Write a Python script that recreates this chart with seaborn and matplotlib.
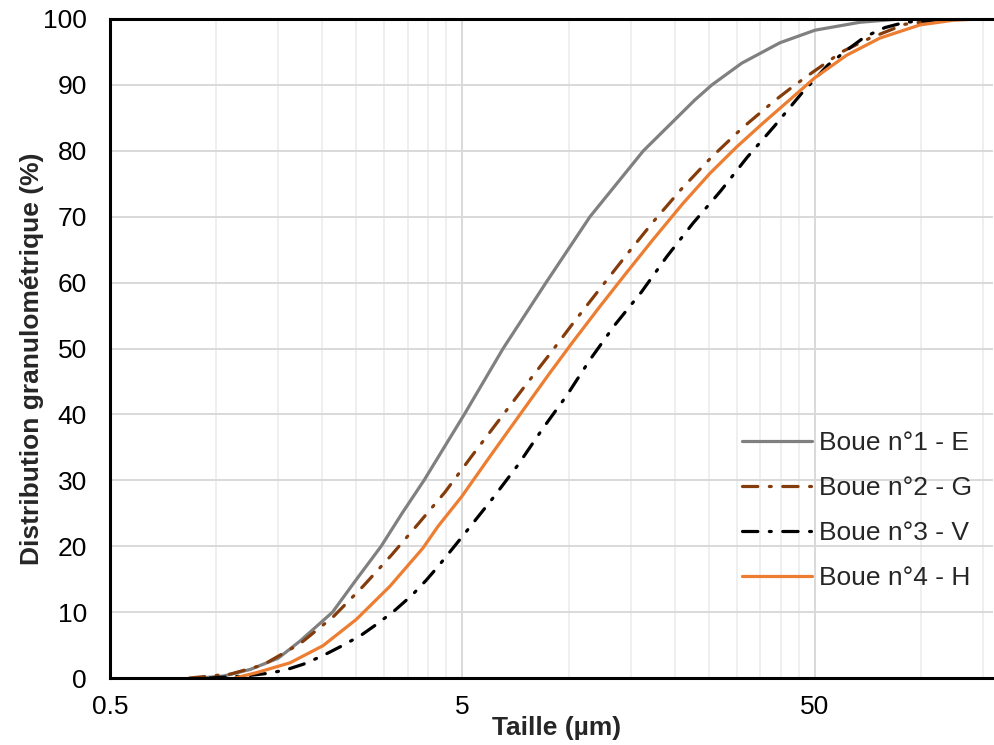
import matplotlib
matplotlib.use("Agg")
import matplotlib.pyplot as plt
from matplotlib.ticker import FixedLocator, NullFormatter
import seaborn as sns
import pandas as pd

# Particle size distributions (cumulative %, size in µm)
size_e = [0.90, 1.05, 1.25, 1.50, 1.73, 2.14, 2.48, 2.94, 3.37, 3.89, 5.06, 6.52,
          8.63, 11.5, 16.3, 22.8, 25.5, 31.0, 39.8, 50.0, 67.0, 87.0, 145.0]
pct_e = [0.0, 0.3, 1.3, 3.0, 5.6, 10.0, 14.7, 20.0, 25.0, 30.0, 40.0, 50.0,
         60.0, 70.0, 80.0, 87.7, 90.0, 93.3, 96.4, 98.3, 99.5, 100.0, 100.0]

size_g = [0.84, 1.10, 1.36, 1.73, 2.15, 2.61, 3.15, 3.76, 4.46, 5.30, 6.26, 7.42,
          8.80, 10.42, 12.33, 14.65, 17.43, 20.9, 25.3, 31.0, 38.2, 42.7, 47.7,
          53.3, 60.0, 71.6, 90.0, 113.0, 145.0]
pct_g = [0.0, 0.6, 2.0, 5.2, 9.3, 13.9, 18.7, 23.5, 28.2, 33.6, 38.7, 43.9,
         49.0, 54.2, 59.2, 64.3, 69.3, 74.2, 78.9, 83.4, 87.5, 89.5, 91.4,
         93.2, 95.1, 97.1, 99.2, 99.9, 100.0]

size_v = [0.96, 1.20, 1.40, 1.57, 1.77, 2.01, 2.28, 2.58, 2.88, 3.22, 3.60, 3.94,
          4.26, 5.00, 6.10, 7.18, 8.46, 9.89, 11.50, 13.54, 16.11, 18.97, 22.53,
          27.0, 32.1, 38.3, 45.8, 54.4, 62.0, 69.3, 79.0, 90.0, 113.0, 145.0]
pct_v = [0.0, 0.3, 0.7, 1.2, 2.1, 3.4, 4.9, 6.5, 8.3, 10.3, 12.6, 14.8,
         16.9, 21.5, 27.3, 32.3, 37.9, 42.9, 48.3, 53.6, 58.6, 63.9, 69.0,
         73.9, 79.0, 83.7, 88.7, 93.0, 95.4, 97.3, 98.7, 99.5, 99.9, 100.0]

size_h = [1.13, 1.30, 1.62, 2.01, 2.50, 3.11, 3.86, 4.26, 4.97, 5.98, 7.42, 8.85,
          10.28, 12.28, 14.45, 17.34, 21.1, 25.2, 30.0, 35.6, 41.9, 50.0, 61.5,
          76.4, 99.3, 123.0, 145.0]
pct_h = [0.0, 0.8, 2.3, 4.9, 8.9, 13.9, 19.7, 23.0, 27.5, 33.6, 40.6, 46.3,
         51.0, 56.4, 61.2, 66.5, 72.0, 76.6, 80.6, 84.2, 87.5, 91.1, 94.5,
         97.1, 99.1, 99.8, 100.0]

labels = ["Boue n°1 - E", "Boue n°2 - G", "Boue n°3 - V", "Boue n°4 - H"]
colors = ["#808080", "#843C0C", "#000000", "#ED7D31"]
x_ticks = [0.5, 5, 50]
x_tick_labels = ["0.5", "5", "50"]
y_ticks = list(range(0, 101, 10))

sns.set_theme(style="white")
plt.rcParams["font.family"] = ["Liberation Sans", "DejaVu Sans"]

FS = 19

fig = plt.figure(figsize=(9.95, 7.45), dpi=100)
ax = fig.add_axes([110 / 995, 1 - 678 / 745, 883 / 995, (678 - 19) / 745])

dash_dot = (0, (4.8, 3.6, 0.6, 3.6))
styles = ["-", dash_dot, dash_dot, "-"]
series = [(size_e, pct_e), (size_g, pct_g), (size_v, pct_v), (size_h, pct_h)]

for (sx, sy), lab, col, ls in zip(series, labels, colors, styles):
    df = pd.DataFrame({"size": sx, "pct": sy})
    sns.lineplot(data=df, x="size", y="pct", ax=ax, color=col, linewidth=2.3,
                 linestyle=ls, label=lab, sort=False, estimator=None,
                 solid_capstyle="round", dash_capstyle="round",
                 solid_joinstyle="round", dash_joinstyle="round")

ax.set_xscale("log")
ax.set_xlim(0.5, 160)
ax.set_ylim(0, 100)

ax.xaxis.set_major_locator(FixedLocator(x_ticks))
ax.set_xticklabels(x_tick_labels)
minor = [0.5 * k for k in range(2, 10)] + [5 * k for k in range(2, 10)] + [50 * k for k in range(2, 4)]
ax.xaxis.set_minor_locator(FixedLocator(minor))
ax.xaxis.set_minor_formatter(NullFormatter())
ax.set_yticks(y_ticks)

ax.grid(which="major", axis="both", color="#d9d9d9", linewidth=1.4)
ax.grid(which="minor", axis="x", color="#efefef", linewidth=1.4)
ax.set_axisbelow(True)

ax.tick_params(axis="both", which="both", length=0, labelsize=FS, colors="#000000")
ax.tick_params(axis="y", pad=16.5)
ax.tick_params(axis="x", pad=12.5)

for side in ["left", "bottom", "top"]:
    ax.spines[side].set_visible(True)
    ax.spines[side].set_color("#000000")
    ax.spines[side].set_linewidth(2.2)
ax.spines["right"].set_visible(False)

ax.set_xlabel("Taille (µm)", fontsize=FS, fontweight="bold")
ax.xaxis.set_label_coords(0.506, -0.058)
ax.set_ylabel("Distribution granulométrique (%)", fontsize=FS, fontweight="bold")
ax.yaxis.set_label_coords(-0.075, 0.484)

ax.legend(loc="upper left", bbox_to_anchor=(0.704, 0.391), frameon=False,
          fontsize=FS, handlelength=2.65, handletextpad=0.27,
          labelspacing=0.8, borderaxespad=0.0)

fig.savefig("out.png", dpi=100)
